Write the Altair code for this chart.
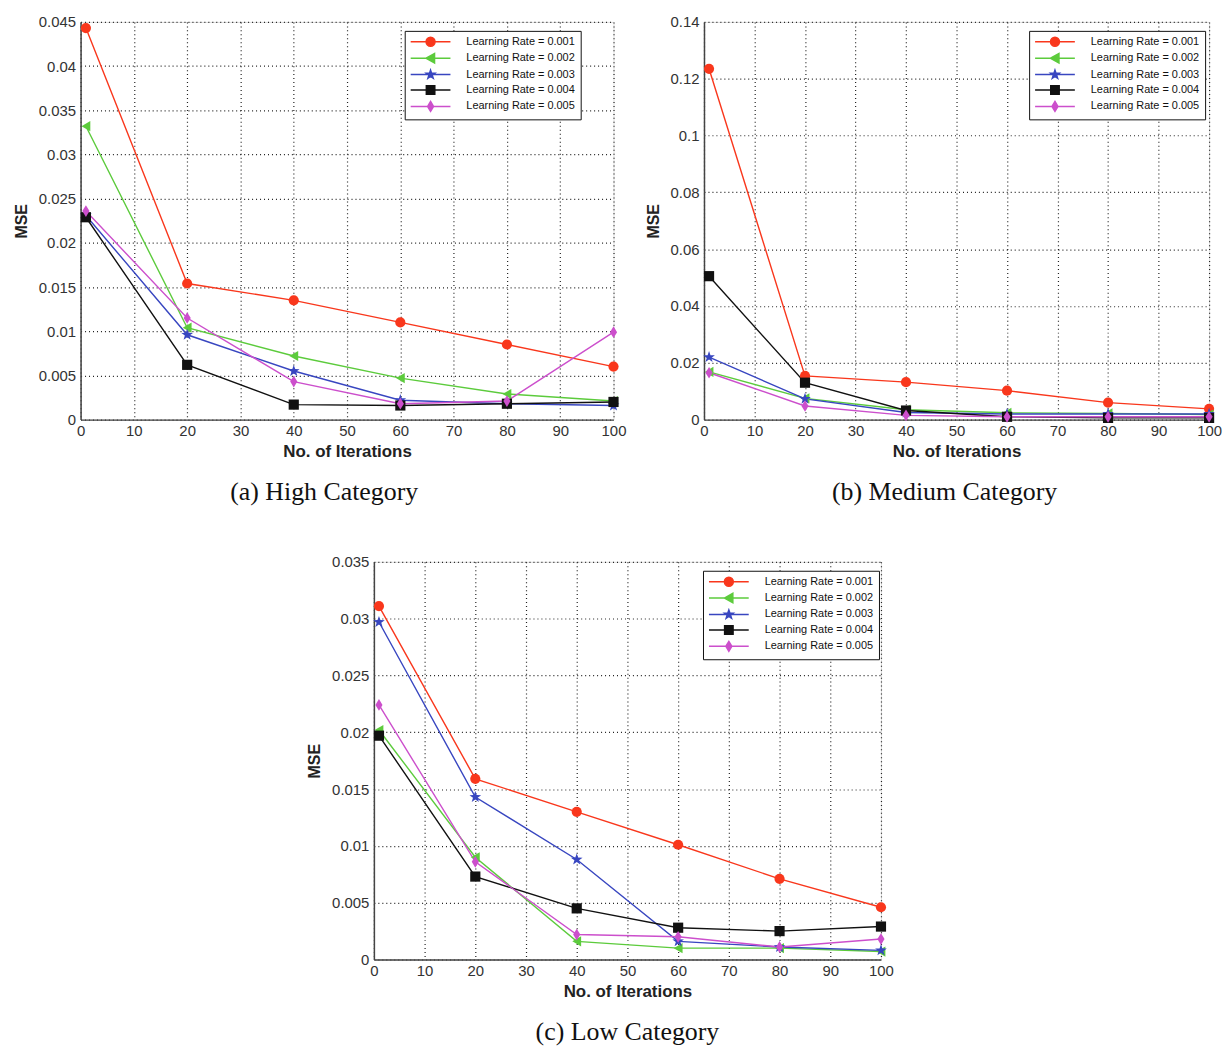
import altair as alt
import pandas as pd

iterations = [1, 20, 40, 60, 80, 100]
series = [
    "Learning Rate = 0.001",
    "Learning Rate = 0.002",
    "Learning Rate = 0.003",
    "Learning Rate = 0.004",
    "Learning Rate = 0.005",
]
colors = ["#f9371c", "#5ccb3c", "#3846c0", "#111111", "#cc4fcc"]

# (a) High Category
high_001 = [0.0443, 0.0154, 0.0135, 0.0110, 0.0085, 0.0060]
high_002 = [0.0332, 0.0104, 0.0072, 0.0047, 0.0029, 0.0021]
high_003 = [0.0231, 0.0096, 0.0055, 0.0022, 0.0018, 0.0016]
high_004 = [0.0229, 0.0062, 0.0017, 0.0016, 0.0018, 0.0020]
high_005 = [0.0236, 0.0115, 0.0043, 0.0018, 0.0021, 0.0099]

# (b) Medium Category
med_001 = [0.1235, 0.0154, 0.0132, 0.0102, 0.0060, 0.0038]
med_002 = [0.0168, 0.0075, 0.0035, 0.0024, 0.0022, 0.0018]
med_003 = [0.0220, 0.0073, 0.0025, 0.0020, 0.0020, 0.0020]
med_004 = [0.0505, 0.0130, 0.0032, 0.0010, 0.0006, 0.0006]
med_005 = [0.0165, 0.0048, 0.0015, 0.0010, 0.0010, 0.0010]

# (c) Low Category
low_001 = [0.0311, 0.0159, 0.0130, 0.0101, 0.0071, 0.0046]
low_002 = [0.0202, 0.0090, 0.0016, 0.0010, 0.0010, 0.0007]
low_003 = [0.0297, 0.0143, 0.0088, 0.0016, 0.0011, 0.0008]
low_004 = [0.0197, 0.0073, 0.0045, 0.0028, 0.0025, 0.0029]
low_005 = [0.0224, 0.0086, 0.0022, 0.0020, 0.0011, 0.0018]

x_ticks = [0, 10, 20, 30, 40, 50, 60, 70, 80, 90, 100]
high_ticks = [0, 0.005, 0.01, 0.015, 0.02, 0.025, 0.03, 0.035, 0.04, 0.045]
med_ticks = [0, 0.02, 0.04, 0.06, 0.08, 0.1, 0.12, 0.14]
low_ticks = [0, 0.005, 0.01, 0.015, 0.02, 0.025, 0.03, 0.035]

STAR = "M0,-1.2L0.282,-0.389L1.141,-0.371L0.456,0.149L0.706,0.971L0,0.48L-0.706,0.971L-0.456,0.149L-1.141,-0.371L-0.282,-0.389Z"
DIAMOND = "M0,-1.15L0.7,0L0,1.15L-0.7,0Z"
marker_shapes = ["circle", "triangle-left", STAR, "square", DIAMOND]

LINE = "M-4,0H4"
legend_shapes = [
    LINE + "M-0.9,0A0.9,0.9,0,1,1,0.9,0A0.9,0.9,0,1,1,-0.9,0Z",
    LINE + "M-0.9,0L0.8,-0.95L0.8,0.95Z",
    LINE + "M0,-0.9L0.21,-0.29L0.86,-0.28L0.34,0.11L0.53,0.73L0,0.36L-0.53,0.73L-0.34,0.11L-0.86,-0.28L-0.21,-0.29Z",
    LINE + "M-0.85,-0.85H0.85V0.85H-0.85Z",
    LINE + "M0,-1L0.6,0L0,1L-0.6,0Z",
]

FONT = "Liberation Sans"


def make_df(lists):
    rows = []
    for s, vals in zip(series, lists):
        for it, v in zip(iterations, vals):
            rows.append({"iter": it, "mse": v, "series": s})
    return pd.DataFrame(rows)


def panel(lists, ymax, yticks, width, height, caption, lx, ly, cap_dx):
    df = make_df(lists)
    xaxis = alt.Axis(values=x_ticks, grid=True, ticks=False, labelPadding=4,
                     titlePadding=5, labelFontSize=15, titleFontSize=17,
                     titleFontWeight="bold", domainColor="#444", domainWidth=1.5,
                     gridDash=[1, 3], gridColor="#222", gridWidth=1.2,
                     labelColor="#333", titleColor="#222", labelFlush=False,
                     labelOverlap=False, labelFont=FONT, titleFont=FONT)
    yaxis = alt.Axis(values=yticks, format="~g", grid=True, ticks=False,
                     labelPadding=5, titlePadding=9, labelFontSize=15,
                     titleFontSize=16, titleFontWeight="bold", domainColor="#444",
                     domainWidth=1.5, gridDash=[1, 3], gridColor="#222",
                     gridWidth=1.2, labelColor="#333", titleColor="#222",
                     labelOverlap=False, labelFont=FONT, titleFont=FONT)
    X = alt.X("iter:Q", scale=alt.Scale(domain=[0, 100], nice=False, zero=False),
              axis=xaxis, title="No. of Iterations")
    Y = alt.Y("mse:Q", scale=alt.Scale(domain=[0, ymax], nice=False),
              axis=yaxis, title="MSE")
    cscale = alt.Scale(domain=series, range=colors)
    lines = alt.Chart(df).mark_line(strokeWidth=1.4).encode(
        x=X, y=Y, color=alt.Color("series:N", scale=cscale, legend=None))
    pts = alt.Chart(df).mark_point(filled=True, size=105, opacity=1).encode(
        x=X, y=Y,
        color=alt.Color("series:N", scale=cscale, legend=None),
        shape=alt.Shape("series:N", scale=alt.Scale(domain=series, range=marker_shapes), legend=None))
    leg = alt.Legend(orient="none", legendX=lx, legendY=ly, title=None,
                     labelFont=FONT, labelFontSize=11, labelColor="#111",
                     symbolSize=100, symbolStrokeWidth=1.5, symbolOffset=15,
                     labelOffset=30, rowPadding=0.5, padding=5,
                     strokeColor="#111", fillColor="white")
    legl = alt.Chart(df).mark_point(filled=True, size=100, opacity=1, strokeWidth=1.5).encode(
        x=X, y=Y,
        fill=alt.Fill("series:N", scale=cscale, legend=leg),
        stroke=alt.Stroke("series:N", scale=cscale, legend=leg),
        shape=alt.Shape("series:N", scale=alt.Scale(domain=series, range=legend_shapes), legend=leg),
    ).transform_filter("false")
    return alt.layer(lines, pts, legl).resolve_scale(
        shape="independent", fill="independent", stroke="independent"
    ).properties(
        width=width, height=height,
        title=alt.Title(caption, orient="bottom", font="Liberation Serif", fontSize=26,
                        fontWeight="normal", color="#111", offset=20, anchor="middle",
                        frame="group", dx=cap_dx))


pa = panel([high_001, high_002, high_003, high_004, high_005], 0.045, high_ticks,
           536, 400, "(a) High Category", 326, 9, -23)
pb = panel([med_001, med_002, med_003, med_004, med_005], 0.14, med_ticks,
           508, 400, "(b) Medium Category", 327, 9, -12)
pc = panel([low_001, low_002, low_003, low_004, low_005], 0.035, low_ticks,
           510, 400, "(c) Low Category", 331, 9, 0)

spacer = alt.Chart(pd.DataFrame({"v": [0]})).mark_point(opacity=0, size=0).encode(
    x=alt.X("v:Q", axis=None), y=alt.Y("v:Q", axis=None)
).properties(width=226, height=10, view=alt.ViewBackground(stroke=None, strokeWidth=0))

top = alt.hconcat(pa, pb, spacing=17)
bottom = alt.hconcat(spacer, pc, spacing=0)
chart = alt.vconcat(top, bottom, spacing=48).properties(
    padding={"left": 4, "top": 3, "right": 0, "bottom": 0}
).configure_view(stroke=None, strokeWidth=0).configure(font=FONT)

chart.save("out.html", embed_options={"renderer": "svg", "actions": False})
